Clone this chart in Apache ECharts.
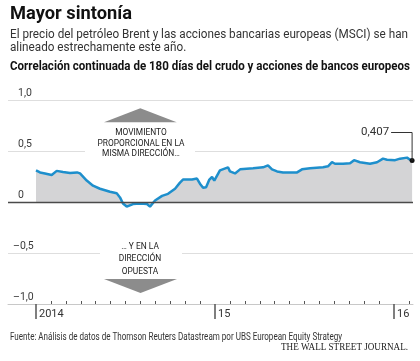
<!DOCTYPE html>
<html><head><meta charset="utf-8">
<script src="https://cdn.jsdelivr.net/npm/echarts@6/dist/echarts.min.js"></script>
<style>html,body{margin:0;padding:0;background:#fff}#c{width:420px;height:361px}</style>
</head><body><div id="c"></div>
<script>
// months since Jan 2014 (0 = Jan 2014)
const monthPos = [0.00,0.27,0.60,1.05,1.39,1.81,2.28,2.75,2.95,3.40,3.82,4.29,4.96,5.41,5.63,5.83,6.08,6.50,6.97,7.44,7.64,7.98,8.45,8.85,9.32,9.65,9.85,10.46,10.79,10.99,11.20,11.40,11.62,11.80,11.95,12.33,12.87,13.00,13.34,13.68,14.55,15.22,15.55,15.82,16.16,16.56,17.50,17.83,18.37,19.24,19.57,19.84,20.04,20.58,21.05,21.32,21.72,22.39,22.86,23.26,23.53,24.07,24.40,24.87,25.07,25.21];
const corrValues = [0.31,0.29,0.28,0.265,0.305,0.295,0.285,0.29,0.28,0.21,0.16,0.13,0.10,0.085,0.045,-0.015,-0.045,-0.02,-0.015,-0.02,-0.045,0.015,0.06,0.08,0.13,0.19,0.22,0.22,0.23,0.18,0.14,0.145,0.22,0.245,0.21,0.31,0.34,0.30,0.28,0.32,0.33,0.34,0.36,0.32,0.30,0.29,0.29,0.32,0.33,0.34,0.35,0.39,0.375,0.375,0.38,0.41,0.39,0.375,0.39,0.425,0.415,0.41,0.425,0.435,0.415,0.407];
const yearTicks = [0, 12, 24];
const yearLabels = ['2014', '15', '16'];
const monthTicks = [1,2,3,4,5,6,7,8,9,10,11,13,14,15,16,17,18,19,20,21,22,23,25];
const posYTicks = [0, 0.5, 1];
const negYTicks = [-0.5, -1];
const lastValueLabel = '0,407';
const titleText = 'Mayor sintonía';
const subtitleLines = ['El precio del petróleo Brent y las acciones bancarias europeas (MSCI) se han', 'alineado estrechamente este año.'];
const chartTitle = 'Correlación continuada de 180 días del crudo y acciones de bancos europeos';
const upNote = ['MOVIMIENTO', 'PROPORCIONAL EN LA', 'MISMA DIRECCIÓN…'];
const downNote = ['… Y EN LA', 'DIRECCIÓN', 'OPUESTA'];
const sourceText = 'Fuente: Análisis de datos de Thomson Reuters Datastream por UBS European Equity Strategy';
const brandText = 'THE WALL STREET JOURNAL.';

const X_MIN = -1.877, X_MAX = 25.27;
const chart = echarts.init(document.getElementById('c'));
function fmtY(v){ if (Math.abs(v) < 1e-9) return '0'; const s = Math.abs(v).toFixed(1).replace('.', ','); return v < 0 ? '\u2013' + s : s; }
const yLabelStyle = {inside:true, align:'left', verticalAlign:'bottom', formatter:fmtY, fontFamily:'Roboto', fontSize:10.5, color:'#3a3a3a', padding:[0,0,1,0]};

chart.setOption({
  animation:false,
  grid:{left:8, right:7, top:100, bottom:57},
  xAxis:[
    {type:'value', min:X_MIN, max:X_MAX, axisLine:{show:true, onZero:false, lineStyle:{color:'#c8c8c8', width:1}},
     axisTick:{show:true, customValues:monthTicks, inside:true, length:3, lineStyle:{color:'#555'}},
     axisLabel:{show:false}, splitLine:{show:false}},
    {type:'value', min:X_MIN, max:X_MAX, position:'bottom', axisLine:{show:false, onZero:false},
     axisTick:{show:true, customValues:yearTicks, length:15, lineStyle:{color:'#555', width:1.5}},
     axisLabel:{show:true, customValues:yearTicks, formatter:v => yearLabels[yearTicks.indexOf(v)], align:'left', padding:[0,0,0,3], margin:5, fontFamily:'Roboto', fontSize:11, color:'#333'},
     splitLine:{show:false}}
  ],
  yAxis:[
    {type:'value', min:-1, max:1, interval:0.5, axisLine:{show:false, onZero:false}, axisTick:{show:false},
     splitLine:{show:true, lineStyle:{color:'#dedede', width:1}},
     axisLabel:Object.assign({customValues:posYTicks, margin:10}, yLabelStyle)},
    {type:'value', min:-1, max:1, interval:0.5, position:'left', axisLine:{show:false, onZero:false}, axisTick:{show:false},
     splitLine:{show:false},
     axisLabel:Object.assign({customValues:negYTicks, margin:5}, yLabelStyle)}
  ],
  series:[{
    type:'line', xAxisIndex:0, yAxisIndex:0,
    data:monthPos.map((m, i) => [m, corrValues[i]]),
    showSymbol:false, symbol:'none', smooth:false,
    lineStyle:{color:'#1e8fcc', width:2.5},
    areaStyle:{color:'#d4d4d6', opacity:1},
    markLine:{silent:true, symbol:'none', label:{show:false}, lineStyle:{color:'#4a4a4a', width:1.3, type:'solid'}, data:[{yAxis:0}]},
    markPoint:{symbol:'circle', symbolSize:5, itemStyle:{color:'#111'}, label:{show:false},
      data:[{coord:[monthPos[monthPos.length-1], corrValues[corrValues.length-1]]}]}
  }]
});

const ctx = document.createElement('canvas').getContext('2d');
function measure(text, size, weight, family){ ctx.font = weight + ' ' + size + 'px ' + family; return ctx.measureText(text).width; }
function txt(text, x, y, size, weight, family, scale, align, color){
  return {type:'text', x:x, y:y, scaleX:scale, z:101,
    style:{text:text, fontSize:size, fontWeight:weight, fontFamily:family, fill:color, align:align, verticalAlign:'middle'}};
}
function fit(text, size, weight, family, w){ return w / measure(text, size, weight, family); }

const SANS = 'Roboto';
const g = [];
g.push(txt(titleText, 10, 14, 19, 'bold', SANS, fit(titleText, 19, 'bold', SANS, 122), 'left', '#111'));
const subScale = fit(subtitleLines[0], 12.5, 'normal', SANS, 398);
g.push(txt(subtitleLines[0], 10, 34.7, 12.5, 'normal', SANS, subScale, 'left', '#333'));
g.push(txt(subtitleLines[1], 10, 47.5, 12.5, 'normal', SANS, subScale, 'left', '#333'));
g.push(txt(chartTitle, 10, 67, 13.5, 'bold', SANS, fit(chartTitle, 13.5, 'bold', SANS, 400), 'left', '#111'));

// annotation masks
g.push({type:'rect', z:100, shape:{x:85, y:145, width:110, height:11}, style:{fill:'#fff'}});
g.push({type:'rect', z:100, shape:{x:100, y:247, width:82, height:11}, style:{fill:'#fff'}});
// triangles
g.push({type:'polygon', z:101, shape:{points:[[104,122.3],[176.7,122.3],[140.3,108.3]]}, style:{fill:'#8c8c8c'}});
g.push({type:'polygon', z:101, shape:{points:[[104,279],[177,279],[140.5,293]]}, style:{fill:'#8c8c8c'}});
const noteScale = fit(upNote[1], 9.5, 'normal', SANS, 87);
[133, 143.6, 154].forEach((y, i) => g.push(txt(upNote[i], 141, y, 9.5, 'normal', SANS, noteScale, 'center', '#222')));
[246.5, 259, 271.5].forEach((y, i) => g.push(txt(downNote[i], 140, y, 9.5, 'normal', SANS, noteScale, 'center', '#222')));

// source & brand
g.push(txt(sourceText, 10, 337, 10, 'normal', SANS, fit(sourceText, 10, 'normal', SANS, 332), 'left', '#333'));
g.push(txt(brandText, 408, 347.5, 10.5, 'normal', '"Liberation Serif"', fit(brandText, 10.5, 'normal', '"Liberation Serif"', 127), 'right', '#222'));

// last value callout
const p = chart.convertToPixel({xAxisIndex:0, yAxisIndex:0}, [monthPos[monthPos.length-1], corrValues[corrValues.length-1]]);
const ly = 132.5;
g.push({type:'polyline', z:101, shape:{points:[[p[0]-21, ly],[p[0], ly],[p[0], p[1]]]}, style:{stroke:'#333', lineWidth:1, fill:null}});
g.push(txt(lastValueLabel, p[0]-23, ly, 11.5, 'normal', SANS, 1, 'right', '#333'));

chart.setOption({graphic:g});
</script></body></html>
